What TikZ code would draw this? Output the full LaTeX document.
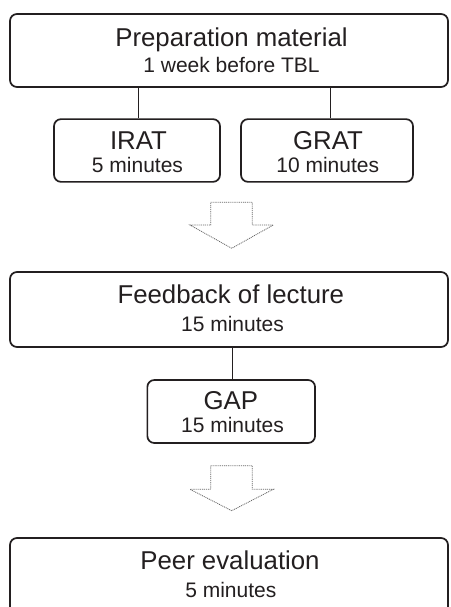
\documentclass[tikz,border=0pt]{standalone}
\usepackage{fontspec}
\setmainfont{Liberation Sans}
\definecolor{ink}{HTML}{231F20}
\begin{document}
\begin{tikzpicture}[x=1pt,y=-1pt,
  box/.style={draw=ink,line width=1.7pt,rounded corners=7pt},
  big/.style={anchor=base,inner sep=0pt,text=ink,font=\fontsize{25.8}{30}\selectfont},
  small/.style={anchor=base,inner sep=0pt,text=ink,font=\fontsize{21}{25}\selectfont},
  link/.style={draw=ink,line width=0.9pt},
  bigarrow/.style={draw=black!60,line width=0.8pt,dash pattern=on 1pt off 0.9pt}]
\clip (0,0) rectangle (450,607);
\fill[white] (0,0) rectangle (450,607);
% boxes
\node[box,minimum width=438pt,minimum height=73pt,inner sep=0pt] (prep) at (229,50.5) {};
\node[box,minimum width=166pt,minimum height=62.7pt,inner sep=0pt] (irat) at (137,150.5) {};
\node[box,minimum width=172pt,minimum height=62.7pt,inner sep=0pt] (grat) at (327,150.5) {};
\node[box,minimum width=438pt,minimum height=75pt,inner sep=0pt] (feed) at (229,309.5) {};
\node[box,minimum width=167.7pt,minimum height=63pt,inner sep=0pt] (gap) at (231.2,411.5) {};
\node[box,minimum width=438pt,minimum height=90pt,inner sep=0pt] (peer) at (229,583) {};
% texts
\node[big] (t1) at (231.5,46.7) {Preparation material};
\node[small] (t2) at (231.5,72.7) {1 week before TBL};
\node[big] (t3) at (138.5,149.3) {IRAT};
\node[small] (t4) at (137.5,172.3) {5 minutes};
\node[big] (t5) at (328,149.3) {GRAT};
\node[small] (t6) at (327.7,172.3) {10 minutes};
\node[big] (t7) at (230.8,303.3) {Feedback of lecture};
\node[small] (t8) at (232.5,331) {15 minutes};
\node[big] (t9) at (230.8,409.3) {GAP};
\node[small] (t10) at (232.5,432.3) {15 minutes};
\node[big] (t11) at (230,569.3) {Peer evaluation};
\node[small] (t12) at (230.8,597) {5 minutes};
% connectors
\draw[link] ([xshift=1pt]irat.north) -- ([xshift=1pt]irat.north |- prep.south);
\draw[link] ([xshift=3pt]grat.north) -- ([xshift=3pt]grat.north |- prep.south);
\draw[link] ([xshift=0.8pt]gap.north) -- ([xshift=0.8pt]gap.north |- feed.south);
% block arrows
\draw[bigarrow] (210.7,202.3) -- (252.3,202.3) -- (252.3,225) -- (273.3,225) -- (231.7,248.3) -- (190,225) -- (210.7,225) -- cycle;
\draw[bigarrow] (210.7,465.7) -- (252.3,465.7) -- (252.3,489.3) -- (273.3,489.3) -- (231.7,510.7) -- (190,489.3) -- (210.7,489.3) -- cycle;
\end{tikzpicture}
\end{document}
